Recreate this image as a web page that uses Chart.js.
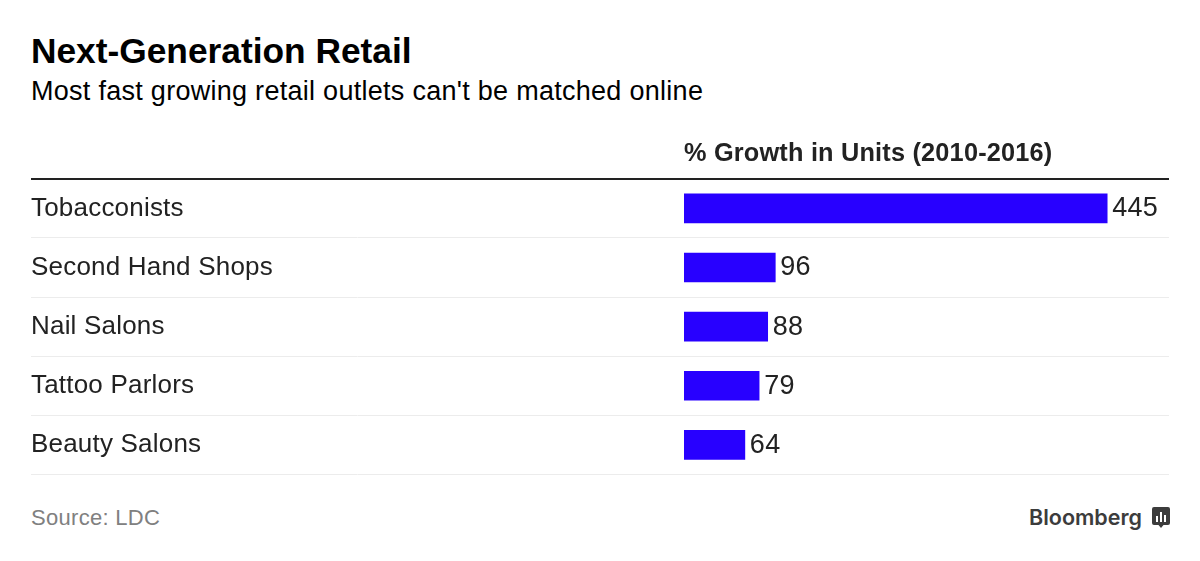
<!DOCTYPE html>
<html>
<head>
<meta charset="utf-8">
<script src="https://cdn.jsdelivr.net/npm/chart.js@4"></script>
<style>
  html, body { margin: 0; padding: 0; background: #fff; }
  body { width: 1200px; height: 561px; position: relative; overflow: hidden; font-family: "Liberation Sans", sans-serif; }
  .txt { position: absolute; white-space: nowrap; }
  #title { left: 31px; top: 31px; font-size: 35.3px; line-height: 40px; font-weight: bold; color: #000; }
  #subtitle { left: 31px; top: 76px; font-size: 27px; line-height: 30px; letter-spacing: 0.28px; color: #000; }
  #source { left: 31px; top: 505px; font-size: 22px; line-height: 26px; letter-spacing: 0.3px; color: #808080; }
  #logo { left: 1029px; top: 502px; font-family: Inter, sans-serif; font-size: 21.5px; line-height: 30px; font-weight: 600; color: #3c3c3c; }
  #icon { position: absolute; left: 1152px; top: 507px; }
  #wrap { position: absolute; left: 31px; top: 126px; width: 1138px; height: 367px; }
</style>
</head>
<body>
<div class="txt" id="title">Next-Generation Retail</div>
<div class="txt" id="subtitle">Most fast growing retail outlets can't be matched online</div>
<div id="wrap"><canvas id="chart"></canvas></div>
<div class="txt" id="source">Source: LDC</div>
<div class="txt" id="logo">Bloomberg</div>
<svg id="icon" width="18" height="23" viewBox="0 0 18 23">
  <path d="M2 0H16Q18 0 18 2V16Q18 18 16 18H11.5L9 21L6.5 18H2Q0 18 0 16V2Q0 0 2 0Z" fill="#3c3c3c"/>
  <path d="M4 9h2v6H4zM8 5h2v10H8zM12 8h2v7h-2z" fill="#fff"/>
</svg>
<script>
// 数据
const categories = ['Tobacconists', 'Second Hand Shops', 'Nail Salons', 'Tattoo Parlors', 'Beauty Salons'];
const growth = [445, 96, 88, 79, 64];
const axisMax = 510;
const axisTitle = '% Growth in Units (2010-2016)';

const INK = '#222222';
const RULE = '#ececec';
const BAR = '#2800ff';
const LABEL_WIDTH = 653;

// 字距 + 数值标签
const textTweaks = {
  id: 'textTweaks',
  beforeDraw(chart) {
    chart.ctx.letterSpacing = '0.2px';
  },
  afterDatasetsDraw(chart) {
    const { ctx } = chart;
    const bars = chart.getDatasetMeta(0).data;
    ctx.save();
    ctx.font = '27px "Liberation Sans"';
    ctx.letterSpacing = '0.3px';
    ctx.fillStyle = INK;
    ctx.textAlign = 'left';
    ctx.textBaseline = 'middle';
    bars.forEach((bar, i) => ctx.fillText(growth[i], bar.x + 5, bar.y + 0.5));
    ctx.restore();
  },
};

new Chart(document.getElementById('chart'), {
  type: 'bar',
  data: {
    labels: categories,
    datasets: [{ data: growth, backgroundColor: BAR, barThickness: 29, borderWidth: 0 }],
  },
  options: {
    indexAxis: 'y',
    responsive: true,
    maintainAspectRatio: false,
    animation: false,
    layout: { padding: 0 },
    plugins: { legend: { display: false }, tooltip: { enabled: false } },
    scales: {
      x: {
        position: 'top',
        min: 0,
        max: axisMax,
        grid: { display: false },
        border: { display: false },
        ticks: { display: false },
        title: {
          display: true,
          text: axisTitle,
          align: 'start',
          color: INK,
          font: { family: '"Liberation Sans"', size: 25.3, weight: 'bold' },
          padding: { top: 13, bottom: 1.5 },
        },
      },
      y: {
        afterFit(scale) { scale.width = LABEL_WIDTH; },
        grid: {
          offset: true,
          tickLength: LABEL_WIDTH,
          color: c => (c.index === 0 ? INK : RULE),
          lineWidth: c => (c.index === 0 ? 2 : 1),
        },
        border: { display: false },
        ticks: {
          crossAlign: 'far',
          color: INK,
          font: { family: '"Liberation Sans"', size: 26 },
        },
      },
    },
  },
  plugins: [textTweaks],
});
</script>
</body>
</html>
